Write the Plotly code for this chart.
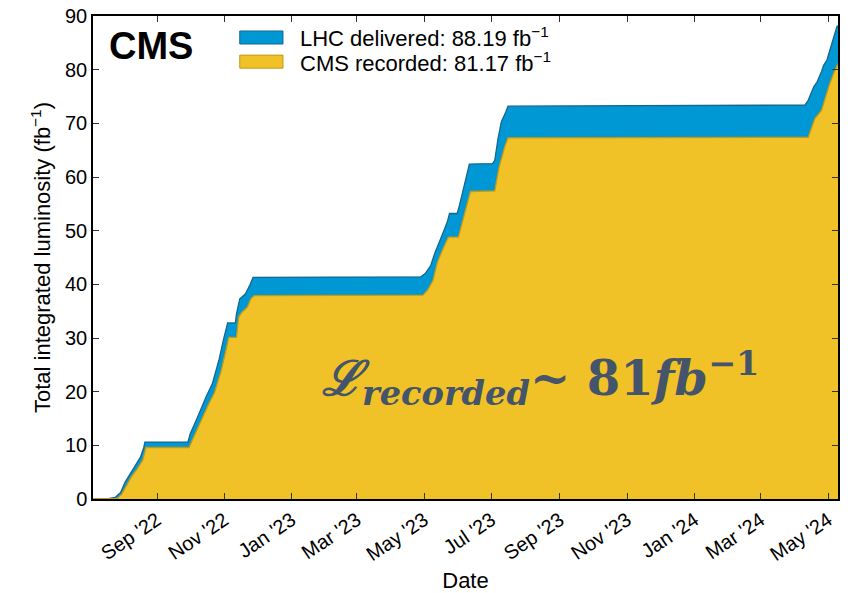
import plotly.graph_objects as go

# Cumulative integrated luminosity, fb^-1
delivered_dates = [
    "2022-07-05", "2022-07-19", "2022-07-25", "2022-07-30", "2022-08-03", "2022-08-08",
    "2022-08-12", "2022-08-17", "2022-08-20", "2022-08-21", "2022-09-29", "2022-10-01",
    "2022-10-07", "2022-10-10", "2022-10-16", "2022-10-21", "2022-10-27", "2022-10-31",
    "2022-11-04", "2022-11-11", "2022-11-12", "2022-11-15", "2022-11-20", "2022-11-24",
    "2022-11-27", "2023-04-28", "2023-05-02", "2023-05-07", "2023-05-11", "2023-05-16",
    "2023-05-19", "2023-05-22", "2023-05-24", "2023-05-31", "2023-06-02", "2023-06-05",
    "2023-06-08", "2023-06-11", "2023-07-02", "2023-07-04", "2023-07-07", "2023-07-10",
    "2023-07-14", "2023-07-16", "2024-04-10", "2024-04-13", "2024-04-18", "2024-04-21",
    "2024-04-25", "2024-04-27", "2024-04-30", "2024-05-03", "2024-05-06", "2024-05-09",
    "2024-05-10",
]
delivered_lumi = [
    0.0, 0.05, 0.3, 1.2, 3.1, 4.7,
    6.2, 7.8, 9.6, 10.6, 10.6, 12.1,
    14.9, 16.4, 19.3, 21.4, 25.8, 29.5,
    32.8, 32.8, 34.5, 37.3, 38.2, 39.8,
    41.3, 41.4, 42.0, 43.5, 46.0, 48.5,
    50.1, 51.6, 53.2, 53.2, 54.7, 57.2,
    60.0, 62.4, 62.5, 63.1, 67.2, 70.3,
    72.1, 73.2, 73.4, 74.3, 76.8, 77.7,
    79.6, 80.8, 81.8, 84.0, 85.8, 88.0,
    88.19,
]

recorded_dates = [
    "2022-07-05", "2022-07-27", "2022-07-31", "2022-08-05", "2022-08-09", "2022-08-14",
    "2022-08-19", "2022-08-22", "2022-09-30", "2022-10-03", "2022-10-09", "2022-10-12",
    "2022-10-18", "2022-10-23", "2022-10-29", "2022-11-02", "2022-11-05", "2022-11-12",
    "2022-11-14", "2022-11-17", "2022-11-22", "2022-11-25", "2022-11-28", "2023-04-30",
    "2023-05-04", "2023-05-09", "2023-05-13", "2023-05-18", "2023-05-23", "2023-06-01",
    "2023-06-03", "2023-06-06", "2023-06-09", "2023-06-12", "2023-07-04", "2023-07-05",
    "2023-07-08", "2023-07-13", "2023-07-16", "2024-04-13", "2024-04-16", "2024-04-19",
    "2024-04-25", "2024-04-28", "2024-05-02", "2024-05-06", "2024-05-09", "2024-05-10",
]
recorded_lumi = [
    0.0, 0.1, 0.9, 2.6, 4.2, 5.6,
    7.2, 9.6, 9.6, 11.0, 13.8, 15.0,
    17.8, 19.8, 23.8, 27.3, 30.1, 30.1,
    33.9, 34.8, 35.8, 37.3, 37.9, 38.0,
    38.9, 40.7, 44.1, 46.6, 48.8, 48.8,
    50.4, 52.9, 55.3, 57.3, 57.4, 58.4,
    61.9, 65.6, 67.3, 67.4, 69.0, 70.9,
    72.4, 74.6, 77.1, 79.3, 81.0, 81.17,
]

tick_dates = ["2022-09-01", "2022-11-01", "2023-01-01", "2023-03-01", "2023-05-01",
              "2023-07-01", "2023-09-01", "2023-11-01", "2024-01-01", "2024-03-01",
              "2024-05-01"]
tick_labels = ["Sep '22", "Nov '22", "Jan '23", "Mar '23", "May '23", "Jul '23",
               "Sep '23", "Nov '23", "Jan '24", "Mar '24", "May '24"]

BLUE, BLUE_EDGE = "#0098d4", "#16668f"
GOLD, GOLD_EDGE = "#f1c128", "#c39a12"
FONT = "Liberation Sans"

fig = go.Figure()
fig.add_trace(go.Scatter(
    x=delivered_dates, y=delivered_lumi, mode="lines", fill="tozeroy",
    fillcolor=BLUE, line=dict(color=BLUE_EDGE, width=1.3),
    name="LHC delivered", showlegend=False, hoverinfo="skip",
))
fig.add_trace(go.Scatter(
    x=recorded_dates, y=recorded_lumi, mode="lines", fill="tozeroy",
    fillcolor=GOLD, line=dict(color=GOLD_EDGE, width=1.3),
    name="CMS recorded", showlegend=False, hoverinfo="skip",
))

axis_common = dict(
    showline=True, linecolor="black", linewidth=1.5, mirror="ticks",
    ticks="inside", ticklen=6, tickwidth=1, tickcolor="#333333",
    showgrid=False, zeroline=False, automargin=False,
    tickfont=dict(family=FONT, size=20, color="black"),
)

fig.update_xaxes(
    type="date", range=["2022-07-05", "2024-05-10"],
    tickvals=tick_dates, ticktext=tick_labels, tickangle=-34,
    title=dict(text="Date", font=dict(family=FONT, size=22, color="black"), standoff=8),
    **axis_common,
)
fig.update_yaxes(
    range=[0, 90], tickvals=list(range(0, 91, 10)),
    title=dict(text="Total integrated luminosity (fb<sup>−1</sup>)",
               font=dict(family=FONT, size=22, color="black"), standoff=8),
    **axis_common,
)

# Legend patches and labels
legend_items = [("LHC delivered: 88.19 fb<sup>−1</sup>", BLUE, BLUE_EDGE, 0.942, 0.969),
                ("CMS recorded: 81.17 fb<sup>−1</sup>", GOLD, GOLD_EDGE, 0.892, 0.919)]
for label, fc, ec, y0, y1 in legend_items:
    fig.add_shape(type="rect", xref="paper", yref="paper", x0=0.197, x1=0.255,
                  y0=y0, y1=y1, fillcolor=fc, line=dict(color=ec, width=1))
    fig.add_annotation(xref="paper", yref="paper", x=0.275, y=(y0 + y1) / 2,
                       text=label, showarrow=False, xanchor="left", yanchor="middle",
                       font=dict(family=FONT, size=22, color="black"))

fig.add_annotation(xref="paper", yref="paper", x=0.019, y=0.937, text="<b>CMS</b>",
                   showarrow=False, xanchor="left", yanchor="middle",
                   font=dict(family=FONT, size=38, color="black"))

fig.add_annotation(xref="paper", yref="paper", x=0.305, y=0.25,
                   text="<b><i>ℒ<sub>recorded</sub></i>~ 81<i>fb</i><sup>−1</sup></b>",
                   showarrow=False, xanchor="left", yanchor="middle",
                   font=dict(family="DejaVu Serif", size=48, color="#44546a"))

fig.update_layout(
    width=851, height=593,
    margin=dict(l=93, r=13, t=16, b=94),
    paper_bgcolor="white", plot_bgcolor="white",
    showlegend=False,
)

fig.write_html("out.html")
